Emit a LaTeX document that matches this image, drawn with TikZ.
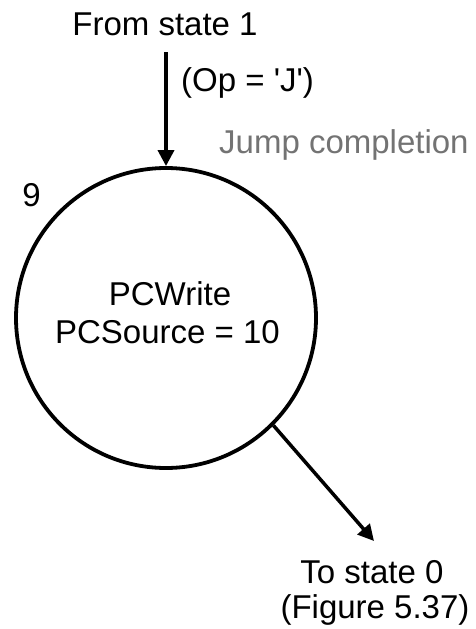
\documentclass[tikz,border=0pt]{standalone}
\usepackage{fontspec}
\setmainfont{Liberation Sans}
\usetikzlibrary{arrows.meta}
\begin{document}
\begin{tikzpicture}[x=1pt,y=-1pt,
  txt/.style={inner sep=0pt, anchor=base, font=\fontsize{33}{39}\selectfont},
  state/.style={draw, circle, line width=3.8pt, minimum size=300pt, inner sep=0pt},
  flow/.style={line width=3.5pt, -{Triangle[length=16pt,width=16pt]}}]
  \useasboundingbox (0,0) rectangle (475,629);
  % state 9 bubble
  \node[state] (s9) at (166,318) {};
  \node[txt] (num) at (31.5,206) {9};
  \node[txt] (act1) at (170,305) {PCWrite};
  \node[txt] (act2) at (167.5,343) {PCSource = 10};
  % incoming transition
  \node[txt] (from) at (165,35) {From state 1};
  \coordinate (inStart) at (166,52);
  \draw[flow] (inStart) -- (s9.north);
  \node[txt, anchor=base west] (cond) at (181,91) {(Op = \textquotesingle J\textquotesingle)};
  \node[txt, anchor=base west, text=black!55] (title) at (219,153) {Jump completion};
  % outgoing transition
  \coordinate (outEnd) at (374,541);
  \draw[flow] (s9.-45) -- (outEnd);
  \node[txt] (to1) at (372,583) {To state 0};
  \node[txt] (to2) at (375,618) {(Figure 5.37)};
\end{tikzpicture}
\end{document}
